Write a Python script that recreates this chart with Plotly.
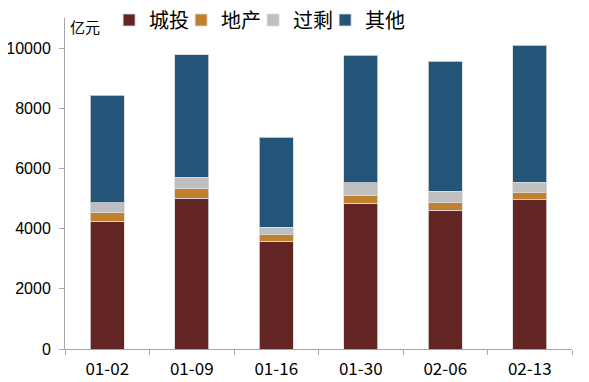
import plotly.graph_objects as go

categories = ["01-02", "01-09", "01-16", "01-30", "02-06", "02-13"]
chengtou = [4240, 5015, 3575, 4836, 4604, 4959]
dichan = [288, 308, 223, 255, 265, 232]
guosheng = [332, 388, 255, 431, 378, 355]
qita = [3572, 4067, 2985, 4236, 4322, 4544]
y_ticks = [0, 2000, 4000, 6000, 8000, 10000]

series = [
    ("城投", chengtou, "#632523"),
    ("地产", dichan, "#C0812F"),
    ("过剩", guosheng, "#BFBFBF"),
    ("其他", qita, "#255479"),
]

fig = go.Figure()
for name, vals, color in series:
    fig.add_trace(go.Bar(
        x=categories, y=vals, name=name,
        marker=dict(color=color, line=dict(color="rgba(220,220,220,0.8)", width=1)),
    ))
# invisible spacer entry so the last legend label is not clipped
fig.add_trace(go.Scatter(
    x=[None], y=[None], mode="lines", name=" ",
    line=dict(color="rgba(0,0,0,0)"), hoverinfo="skip", showlegend=True,
))

# the page body has an 8px default margin, so the figure is sized/offset to compensate
axis_color = "#A6A6A6"
fig.update_layout(
    barmode="stack",
    bargap=0.6,
    width=581, height=374,
    margin=dict(l=57, r=17, t=10, b=32.5, autoexpand=False),
    paper_bgcolor="white", plot_bgcolor="white",
    font=dict(family="Liberation Sans, Arial, sans-serif", color="black"),
    showlegend=True,
    legend=dict(
        orientation="h", x=0.087, y=0.994, xanchor="left", yanchor="middle",
        font=dict(family="Noto Sans CJK SC", size=20, color="black"),
        entrywidth=27, entrywidthmode="pixels",
        bgcolor="rgba(0,0,0,0)",
        traceorder="normal",
    ),
    xaxis=dict(
        type="category",
        showline=True, linecolor=axis_color, linewidth=1,
        ticks="outside", ticklen=5, tickcolor=axis_color, tickson="boundaries",
        tickfont=dict(family="Noto Sans CJK SC", size=17, color="black"),
        ticklabelstandoff=5,
        showgrid=False, zeroline=False,
    ),
    yaxis=dict(
        range=[0, 11000],
        tickvals=y_ticks,
        ticktext=[str(v) for v in y_ticks],
        showline=True, linecolor=axis_color, linewidth=1,
        ticks="outside", ticklen=5, tickcolor=axis_color,
        tickfont=dict(family="Liberation Sans", size=16, color="black"),
        ticklabelstandoff=5,
        showgrid=False, zeroline=False,
    ),
    annotations=[dict(
        text="亿元", xref="paper", yref="paper", x=0.005, y=0.975,
        xanchor="left", yanchor="middle", showarrow=False,
        font=dict(family="Noto Sans CJK SC", size=15, color="black"),
    )],
)

fig.write_html("out.html")
